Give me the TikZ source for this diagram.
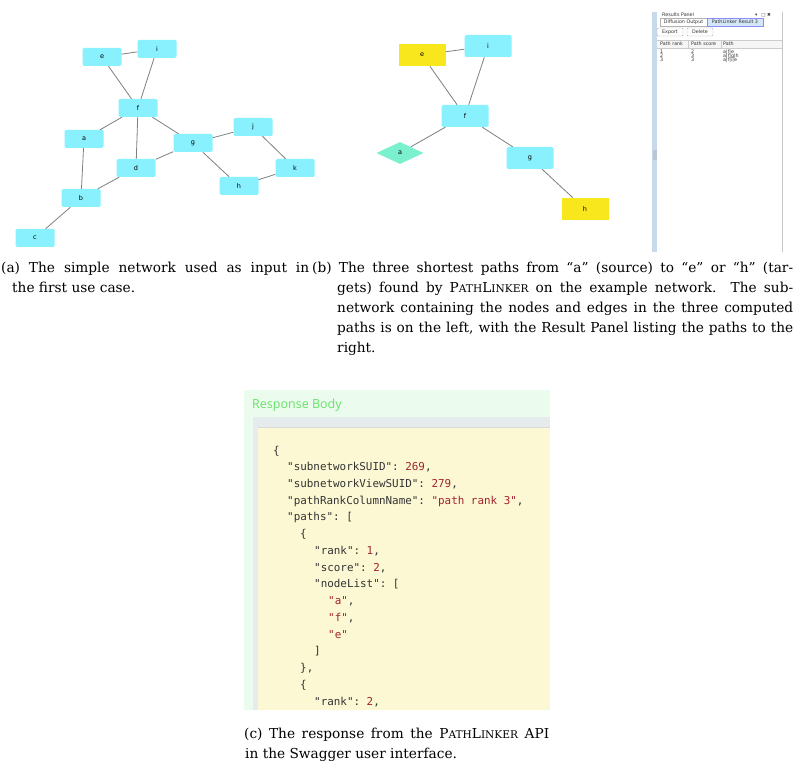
\documentclass[tikz,border=0pt]{standalone}
\usepackage{fontspec}
\setmainfont{DejaVu Serif}
\setsansfont{DejaVu Sans}
\setmonofont{DejaVu Sans Mono}
\newfontfamily\swagfont{Open Sans}
\usetikzlibrary{shapes.geometric}

\definecolor{netcyan}{HTML}{89F0FD}
\definecolor{netyellow}{HTML}{F9E71E}
\definecolor{netaqua}{HTML}{7AF0CF}
\definecolor{edgegray}{HTML}{7A8080}
\definecolor{panelstrip}{HTML}{C8D9EA}
\definecolor{tabblue}{HTML}{D3E7F7}
\definecolor{swagmint}{HTML}{EBFCEE}
\definecolor{swagband}{HTML}{E6ECEE}
\definecolor{swagyellow}{HTML}{FCF8D4}
\definecolor{swaggreen}{HTML}{66E266}
\definecolor{jsonkey}{HTML}{333333}
\definecolor{jsonval}{HTML}{A3222E}

\newcommand{\capfont}{\fontsize{13.7}{20}\selectfont}
\newcommand{\PL}{P{\fontsize{10.6}{12}\selectfont ATH}L{\fontsize{10.6}{12}\selectfont INKER}}
\newcommand{\jk}[1]{"#1"}
\newcommand{\jv}[1]{\textcolor{jsonval}{#1}}

\tikzset{
  netnode/.style={rectangle, rounded corners=1.5pt, fill=netcyan, minimum width=39pt,
    minimum height=18pt, inner sep=0pt, font=\sffamily\fontsize{6.5}{7}\selectfont},
  bignode/.style={netnode, minimum width=47pt, minimum height=22pt},
  targetnode/.style={bignode, rounded corners=0pt, fill=netyellow},
  sourcenode/.style={diamond, fill=netaqua, minimum width=47pt, minimum height=22pt,
    inner sep=0pt, font=\sffamily\fontsize{6.5}{7}\selectfont},
  netedge/.style={draw=edgegray, line width=0.8pt},
  uitext/.style={inner sep=0pt, anchor=west, text=black!80, font=\sffamily\fontsize{4.8}{5.5}\selectfont},
  uibutton/.style={draw=gray!60, rounded corners=1pt, fill=white, inner sep=0pt,
    font=\sffamily\fontsize{4.8}{5.5}\selectfont, text=black!80},
  capline/.style={anchor=base west, inner sep=0pt, font=\capfont},
  jsonline/.style={anchor=base west, inner sep=0pt, text=jsonkey, font=\ttfamily\fontsize{10.9}{13}\selectfont}
}

\begin{document}
\begin{tikzpicture}[x=1pt, y=-1pt]
  \useasboundingbox (0,0) rectangle (797,767);

  % (a) input network
  \node[netnode] (e1) at (102,57) {e};
  \node[netnode] (i1) at (157,49) {i};
  \node[netnode] (f1) at (138,108) {f};
  \node[netnode] (a1) at (84,139) {a};
  \node[netnode] (d1) at (136,168) {d};
  \node[netnode] (g1) at (193,143) {g};
  \node[netnode] (j1) at (253,127) {j};
  \node[netnode] (k1) at (295,168) {k};
  \node[netnode] (h1) at (239,186) {h};
  \node[netnode] (b1) at (81,198) {b};
  \node[netnode] (c1) at (35,238) {c};
  \draw[netedge] (e1) -- (i1);
  \draw[netedge] (e1) -- (f1);
  \draw[netedge] (i1) -- (f1);
  \draw[netedge] (f1) -- (a1);
  \draw[netedge] (f1) -- (d1);
  \draw[netedge] (f1) -- (g1);
  \draw[netedge] (a1) -- (b1);
  \draw[netedge] (d1) -- (b1);
  \draw[netedge] (d1) -- (g1);
  \draw[netedge] (g1) -- (j1);
  \draw[netedge] (g1) -- (h1);
  \draw[netedge] (j1) -- (k1);
  \draw[netedge] (h1) -- (k1);
  \draw[netedge] (b1) -- (c1);

  % (b) subnetwork of the three paths
  \node[targetnode] (e2) at (422,55) {e};
  \node[bignode] (i2) at (488,46) {i};
  \node[bignode] (f2) at (465,116) {f};
  \node[sourcenode] (a2) at (400,153) {a};
  \node[bignode] (g2) at (530,158) {g};
  \node[targetnode] (h2) at (585,209) {h};
  \draw[netedge] (e2) -- (i2);
  \draw[netedge] (e2) -- (f2);
  \draw[netedge] (i2) -- (f2);
  \draw[netedge] (f2) -- (a2);
  \draw[netedge] (f2) -- (g2);
  \draw[netedge] (g2) -- (h2);

  % Results Panel
  \fill[panelstrip] (652,12) rectangle (657,252);
  \fill[panelstrip!80!gray] (652.5,150) rectangle (656.5,160);
  \draw[gray!45] (782,12) -- (782,252);
  \node[uitext] (ptitle) at (662,15) {Results Panel};
  \node[uitext, font=\sffamily\fontsize{4.5}{5}\selectfont] (picons) at (755,15) {▾\hspace{4pt}□ ✖};
  \node[uibutton, rounded corners=0pt, minimum width=47pt, minimum height=8pt] (tabdiff) at (683.5,22) {Diffusion Output};
  \node[uibutton, rounded corners=0pt, fill=tabblue, draw=blue!45, minimum width=56pt, minimum height=8pt] (tabpl) at (735,22) {PathLinker Result 3};
  \node[uibutton, minimum width=26pt, minimum height=8pt] (bexport) at (670,32) {Export};
  \node[uibutton, minimum width=26pt, minimum height=8pt] (bdelete) at (700,32) {Delete};
  \fill[gray!8] (657,40) rectangle (782,48);
  \draw[gray!40] (657,40) -- (782,40) (657,48) -- (782,48) (688,40) -- (688,48) (721,40) -- (721,48);
  \node[uitext] (hrank) at (660,44) {Path rank};
  \node[uitext] (hscore) at (691,44) {Path score};
  \node[uitext] (hpath) at (723,44) {Path};
  \node[uitext] (r1) at (660,52) {1};
  \node[uitext] (s1) at (691,52) {2};
  \node[uitext] (p1) at (723,52) {a|f|e};
  \node[uitext] (r2) at (660,56) {2};
  \node[uitext] (s2) at (691,56) {3};
  \node[uitext] (p2) at (723,56) {a|f|g|h};
  \node[uitext] (r3) at (660,60) {3};
  \node[uitext] (s3) at (691,60) {3};
  \node[uitext] (p3) at (723,60) {a|f|i|e};

  % Captions (a) and (b)
  \node[capline] (capa1) at (1,272) {\makebox[308pt][s]{(a) The simple network used as input in}};
  \node[capline] (capa2) at (12,292) {the first use case.};
  \node[capline] (capb1) at (312,272) {\makebox[481pt][s]{(b) The three shortest paths from “a” (source) to “e” or “h” (tar-}};
  \node[capline] (capb2) at (337,292) {\makebox[456pt][s]{gets) found by \PL{} on the example network. The sub-}};
  \node[capline] (capb3) at (337,312) {\makebox[456pt][s]{network containing the nodes and edges in the three computed}};
  \node[capline] (capb4) at (337,332) {\makebox[456pt][s]{paths is on the left, with the Result Panel listing the paths to the}};
  \node[capline] (capb5) at (337,352) {right.};

  % (c) Swagger response body
  \fill[swagmint] (244,390) rectangle (550,710);
  \node[anchor=west, inner sep=0pt, text=swaggreen, font=\swagfont\fontsize{12.5}{14}\selectfont] (rbody) at (252,405) {Response Body};
  \fill[swagband] (253,417) rectangle (550,710);
  \fill[swagyellow] (258,427) rectangle (550,710);
  \draw[gray!30] (258,427) -- (550,427);
  \node[jsonline] (l1) at (273,454) {\{};
  \node[jsonline] (l2) at (287,470.7) {\jk{subnetworkSUID}: \jv{269},};
  \node[jsonline] (l3) at (287,487.5) {\jk{subnetworkViewSUID}: \jv{279},};
  \node[jsonline] (l4) at (287,504.2) {\jk{pathRankColumnName}: \jv{"path rank 3"},};
  \node[jsonline] (l5) at (287,520.9) {\jk{paths}: [};
  \node[jsonline] (l6) at (300,537.7) {\{};
  \node[jsonline] (l7) at (314,554.4) {\jk{rank}: \jv{1},};
  \node[jsonline] (l8) at (314,571.1) {\jk{score}: \jv{2},};
  \node[jsonline] (l9) at (314,587.8) {\jk{nodeList}: [};
  \node[jsonline] (l10) at (328,604.6) {\jv{"a"},};
  \node[jsonline] (l11) at (328,621.3) {\jv{"f"},};
  \node[jsonline] (l12) at (328,638) {\jv{"e"}};
  \node[jsonline] (l13) at (314,654.8) {]};
  \node[jsonline] (l14) at (300,671.5) {\},};
  \node[jsonline] (l15) at (300,688.2) {\{};
  \node[jsonline] (l16) at (314,705) {\jk{rank}: \jv{2},};

  % Caption (c)
  \node[capline] (capc1) at (244,738) {\makebox[305pt][s]{(c) The response from the \PL{} API}};
  \node[capline] (capc2) at (245,758) {in the Swagger user interface.};
\end{tikzpicture}
\end{document}
